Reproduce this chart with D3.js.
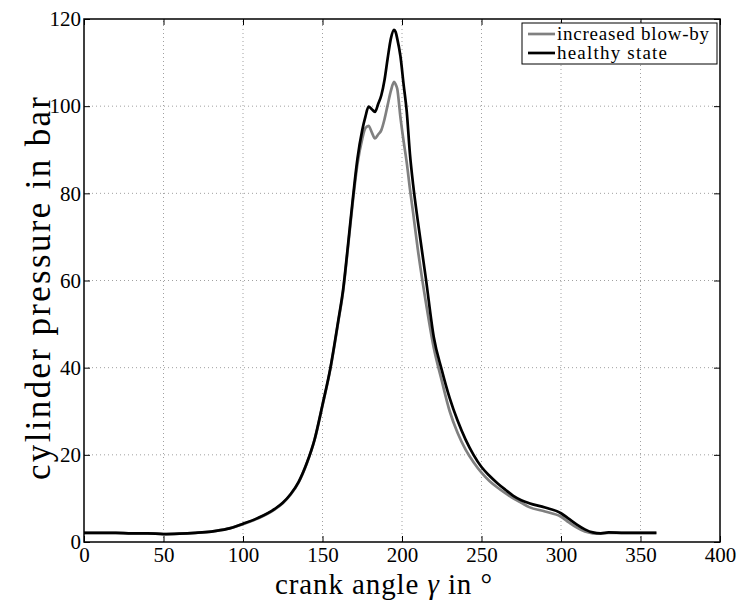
<!DOCTYPE html>
<html>
<head>
<meta charset="utf-8">
<script src="https://cdn.jsdelivr.net/npm/d3@7"></script>
<style>
  body { margin: 0; background: #fff; }
  svg { display: block; }
  svg text { font-family: "Liberation Serif", "DejaVu Serif", serif !important; fill: #000; }
</style>
</head>
<body>
<svg id="chart" width="738" height="600"></svg>
<script>
// ---- data ----
const angles = [0,10,20,30,40,50,60,70,80,90,100,110,120,125,130,135,140,145,150,155,160,163,166,169,172,175,177,179,181,183,185,187,189,191,193,195,196,197,199,201,203,205,207,210,215,220,225,230,235,240,245,250,255,260,265,270,275,280,290,300,305,310,315,320,325,330,340,350,360];
const healthy = [2.1,2.1,2.1,2.0,2.0,1.8,1.9,2.1,2.4,3.0,4.2,5.6,7.6,9.0,11.0,13.8,18.0,23.5,31.5,40,51,58,68,78.5,88,94.5,97.6,99.9,99.3,98.7,100.5,102.5,106,111,115.5,117.5,117,115.5,111.5,105,98.7,89,82,73.5,60.5,47,39.5,33,27.8,23.5,20,17.2,15.2,13.5,12,10.6,9.6,8.9,7.9,6.6,5.3,4.0,2.9,2.2,2.0,2.2,2.1,2.1,2.1];
const blowby  = [2.1,2.1,2.1,2.0,2.0,1.8,1.9,2.1,2.4,3.0,4.1,5.5,7.5,8.9,10.9,13.7,17.9,23.4,31.3,39.8,50.7,57.6,67.5,77.8,86.8,92.5,95,95.5,94,92.6,93.5,94.5,97,100.3,103.5,105.6,105,104,97.5,92,87,81,75.5,67,55,44.5,37,30,25,21.2,18.3,15.9,14,12.5,11.2,10,9.0,8.0,7.0,5.8,4.5,3.3,2.4,2.0,1.9,2.1,2.1,2.1,2.1];
const xTicks = [0,50,100,150,200,250,300,350,400];
const yTicks = [0,20,40,60,80,100,120];
const seriesNames = ["increased blow-by", "healthy state"];
const seriesColors = ["#808080", "#000000"];

// ---- layout ----
const svg = d3.select("#chart");
const m = {left: 84, top: 19, right: 738 - 720, bottom: 600 - 542};
const W = 738, H = 600;
const x = d3.scaleLinear().domain([0, 400]).range([m.left, W - m.right]);
const y = d3.scaleLinear().domain([0, 120]).range([H - m.bottom, m.top]);

// grid
const grid = svg.append("g");
grid.selectAll("line.vx").data(xTicks.slice(1, -1)).enter().append("line")
  .attr("x1", d => x(d)).attr("x2", d => x(d))
  .attr("y1", y(0)).attr("y2", y(120))
  .attr("stroke", "#a0a0a0").attr("stroke-width", 1).attr("stroke-dasharray", "1,3");
grid.selectAll("line.hy").data(yTicks.slice(1, -1)).enter().append("line")
  .attr("y1", d => y(d)).attr("y2", d => y(d))
  .attr("x1", x(0)).attr("x2", x(400))
  .attr("stroke", "#a0a0a0").attr("stroke-width", 1).attr("stroke-dasharray", "1,3");

// lines
const line = d3.line().x((d, i) => x(angles[i])).y(d => y(d)).curve(d3.curveMonotoneX);
[blowby, healthy].forEach((s, i) => {
  svg.append("path").datum(s)
    .attr("d", line)
    .attr("fill", "none")
    .attr("stroke", seriesColors[i])
    .attr("stroke-width", 2.7)
    .attr("stroke-linejoin", "round");
});

// axes (inner ticks on all four sides)
const tickLen = 6;
const fs = 21;
const ax = svg.append("g")
  .attr("transform", `translate(0,${y(0)})`)
  .call(d3.axisBottom(x).tickValues(xTicks).tickSize(-tickLen).tickPadding(4).tickFormat(d3.format("d")));
const axTop = svg.append("g")
  .attr("transform", `translate(0,${y(120)})`)
  .call(d3.axisTop(x).tickValues(xTicks).tickSize(-tickLen).tickFormat(""));
const ay = svg.append("g")
  .attr("transform", `translate(${x(0)},0)`)
  .call(d3.axisLeft(y).tickValues(yTicks).tickSize(-tickLen).tickPadding(3).tickFormat(d3.format("d")));
const ayR = svg.append("g")
  .attr("transform", `translate(${x(400)},0)`)
  .call(d3.axisRight(y).tickValues(yTicks).tickSize(-tickLen).tickFormat(""));
[ax, axTop, ay, ayR].forEach(g => {
  g.attr("font-family", null);
  g.select(".domain").remove();
  g.selectAll(".tick line").attr("stroke", "#000").attr("stroke-width", 1);
  g.selectAll(".tick text").attr("font-size", fs);
});
ax.selectAll(".tick text").attr("dy", "0.75em");
ay.selectAll(".tick text").attr("dy", "0.32em");

// frame
svg.append("rect")
  .attr("x", x(0)).attr("y", y(120))
  .attr("width", x(400) - x(0)).attr("height", y(0) - y(120))
  .attr("fill", "none").attr("stroke", "#000").attr("stroke-width", 1.5);

// axis labels
const xl = svg.append("text")
  .attr("x", 275).attr("y", 594)
  .attr("font-size", 29)
  .attr("textLength", 217).attr("lengthAdjust", "spacing");
xl.append("tspan").text("crank angle ");
xl.append("tspan").attr("font-style", "italic").text("γ");
xl.append("tspan").text(" in °");

svg.append("text")
  .attr("transform", `translate(50,${(97 + 480) / 2}) rotate(-90)`)
  .attr("text-anchor", "middle").attr("font-size", 35)
  .attr("textLength", 383).attr("lengthAdjust", "spacing")
  .text("cylinder pressure in bar");

// legend
const lg = svg.append("g");
lg.append("rect").attr("x", 522).attr("y", 23).attr("width", 195).attr("height", 41)
  .attr("fill", "#fff").attr("stroke", "#000").attr("stroke-width", 1);
const legendLens = [152, 110];
seriesNames.forEach((name, i) => {
  const yy = 34 + i * 19;
  lg.append("line").attr("x1", 528).attr("x2", 555).attr("y1", yy).attr("y2", yy)
    .attr("stroke", seriesColors[i]).attr("stroke-width", 2.7);
  lg.append("text").attr("x", 557).attr("y", yy).attr("dy", "0.32em")
    .attr("font-size", 19)
    .attr("textLength", legendLens[i]).attr("lengthAdjust", "spacing")
    .text(name);
});
</script>
</body>
</html>
